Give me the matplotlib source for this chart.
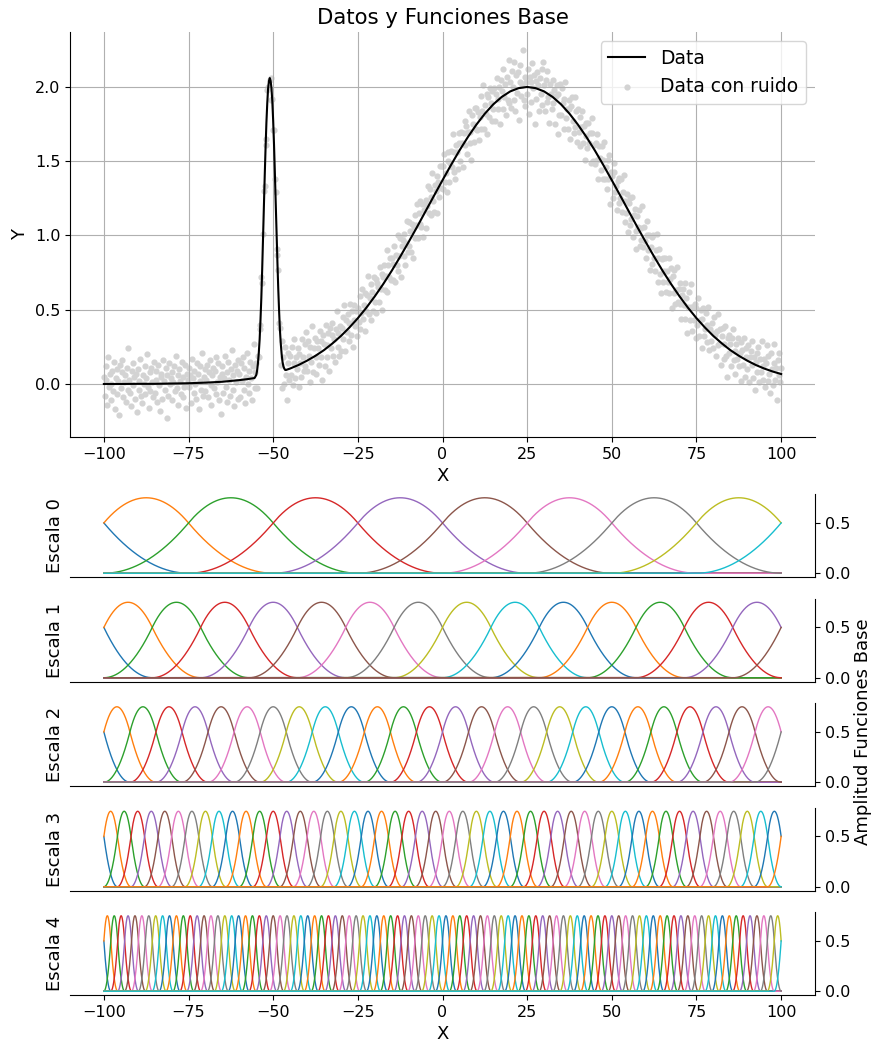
import numpy as np
import matplotlib
matplotlib.use('Agg')
import matplotlib.pyplot as plt

# curva "Data" (x, y)
curve_x = [-100, -95, -90, -85, -80, -75, -70, -65, -60, -57.5, -55.5,
           -55.25, -55, -54.75, -54.5, -54.25, -54, -53.75, -53.5, -53.25, -53,
           -52.75, -52.5, -52.25, -52, -51.75, -51.5, -51.25, -51, -50.75, -50.5,
           -50.25, -50, -49.75, -49.5, -49.25, -49, -48.75, -48.5, -48.25, -48,
           -47.75, -47.5, -47.25, -47, -46.75, -46.5, -46.25,
           -45, -42.5, -40, -37.5, -35, -32.5, -30, -27.5, -25, -22.5, -20,
           -17.5, -15, -12.5, -10, -7.5, -5, -2.5, 0, 2.5, 5, 7.5, 10, 12.5,
           15, 17.5, 20, 22.5, 25, 27.5, 30, 32.5, 35, 37.5, 40, 42.5, 45,
           47.5, 50, 52.5, 55, 57.5, 60, 62.5, 65, 67.5, 70, 72.5, 75, 77.5,
           80, 82.5, 85, 87.5, 90, 92.5, 95, 97.5, 100]
curve_y = [0.0, 0.0, 0.001, 0.001, 0.003, 0.005, 0.009, 0.015, 0.026, 0.033, 0.040,
           0.05, 0.06, 0.09, 0.14, 0.21, 0.30, 0.43, 0.58, 0.77, 0.98,
           1.19, 1.40, 1.59, 1.76, 1.89, 1.99, 2.04, 2.06, 2.04, 1.99,
           1.90, 1.77, 1.61, 1.42, 1.22, 1.02, 0.82, 0.64, 0.49, 0.36,
           0.27, 0.20, 0.15, 0.12, 0.105, 0.095, 0.094,
           0.104, 0.128, 0.157, 0.190, 0.228, 0.273, 0.323, 0.380, 0.443, 0.513, 0.590,
           0.673, 0.762, 0.857, 0.956, 1.058, 1.163, 1.268, 1.372, 1.474, 1.572, 1.663, 1.746, 1.820,
           1.883, 1.933, 1.970, 1.992, 2.000, 1.992, 1.970, 1.933, 1.883, 1.820, 1.746, 1.663, 1.572,
           1.474, 1.372, 1.268, 1.163, 1.058, 0.956, 0.857, 0.762, 0.673, 0.590, 0.513, 0.443, 0.380,
           0.323, 0.273, 0.228, 0.190, 0.157, 0.128, 0.104, 0.084, 0.067]

# puntos con ruido, x de -100 a 100 cada 0.25, y en centesimas (20 por fila)
noisy_rows = [
    [5, -8, 12, 3, -14, 18, -2, 7, -11, 0, 9, -5, 15, -17, 4, 10, -7, 2, -21, 13],
    [-3, 8, 16, -9, 1, 6, -12, 11, -4, 24, 3, -6, -15, 9, 14, -1, 5, -10, 7, -19],
    [10, -4, 2, 17, -8, -13, 6, 0, 12, -7, 4, 20, -2, -16, 8, -5, 11, 1, -9, 15],
    [-6, 3, 9, -12, 13, -1, -18, 7, 5, -10, 16, 2, -4, 11, -23, 6, -8, 14, 0, 4],
    [8, -11, 1, 12, -5, 19, -3, 6, -14, 10, 2, -7, 15, 5, -9, -2, 13, -16, 7, 3],
    [-2, 11, 6, -13, 17, 4, -6, 9, 0, -10, 14, 7, -17, 2, 12, -4, 21, -8, 5, 10],
    [-5, 3, 13, -9, 8, 16, -1, -14, 6, 11, -3, 9, 18, -7, 1, 14, -11, 5, -20, 7],
    [12, -6, 4, 19, -2, 8, -12, 15, 3, -8, 10, 23, -4, 6, -15, 13, 1, 9, -10, 16],
    [7, -9, 14, 2, 18, -4, 11, -13, 5, 21, 0, 9, -6, 15, 4, -11, 12, 27, -3, 8],
    [14, -3, 19, 18, 40, 37, 72, 68, 101, 130, 133, 165, 161, 198, 200, 199, 205, 206, 191, 192],
    [171, 171, 138, 129, 91, 87, 77, 41, 38, 13, 29, -3, 18, 0, 25, 6, -11, 14, 21, 3],
    [19, 6, 25, -1, 14, 30, 4, 18, 10, 24, -2, 20, 14, 5, 30, 18, 9, 27, 12, 35],
    [9, 29, 19, 1, 25, 15, 39, 8, 24, 31, 18, 7, 29, 24, 13, 36, 18, 29, 3, 33],
    [27, 12, 40, 18, 26, 34, 9, 38, 24, 33, 41, 19, 30, 15, 37, 49, 25, 34, 19, 39],
    [22, 38, 45, 30, 53, 22, 43, 35, 47, 29, 41, 54, 33, 49, 25, 43, 53, 39, 49, 32],
    [51, 42, 59, 37, 48, 64, 44, 53, 36, 61, 49, 60, 73, 47, 58, 43, 67, 62, 49, 72],
    [55, 71, 48, 68, 65, 55, 79, 64, 74, 50, 72, 80, 63, 73, 90, 62, 80, 72, 85, 70],
    [85, 70, 81, 93, 69, 87, 80, 100, 76, 86, 98, 72, 93, 97, 86, 101, 80, 95, 110, 89],
    [93, 109, 103, 89, 108, 85, 106, 114, 98, 107, 121, 98, 115, 108, 123, 106, 121, 99, 117, 121],
    [124, 105, 120, 133, 115, 131, 114, 126, 142, 123, 116, 134, 130, 115, 140, 136, 126, 147, 132, 147],
    [131, 147, 155, 136, 142, 129, 150, 156, 136, 149, 157, 146, 168, 143, 156, 138, 161, 156, 145, 169],
    [162, 150, 170, 162, 146, 169, 177, 161, 174, 155, 170, 184, 162, 170, 151, 181, 175, 163, 186, 172],
    [186, 171, 183, 164, 180, 194, 172, 184, 201, 172, 188, 182, 195, 168, 193, 180, 199, 189, 177, 197],
    [185, 199, 177, 195, 206, 185, 192, 200, 175, 205, 197, 185, 212, 193, 202, 181, 207, 191, 218, 189],
    [203, 186, 211, 200, 191, 217, 184, 208, 196, 210, 178, 203, 215, 194, 201, 225, 191, 207, 187, 203],
    [195, 212, 182, 207, 203, 190, 216, 199, 208, 175, 204, 192, 210, 201, 184, 206, 195, 212, 188, 217],
    [201, 184, 205, 190, 211, 193, 176, 202, 195, 185, 205, 189, 198, 175, 194, 201, 168, 195, 181, 202],
    [181, 199, 189, 172, 192, 203, 179, 185, 172, 191, 185, 165, 187, 193, 177, 169, 193, 173, 184, 163],
    [185, 170, 180, 160, 173, 184, 162, 174, 151, 176, 167, 159, 176, 162, 169, 149, 169, 179, 150, 161],
    [148, 162, 168, 151, 138, 160, 152, 144, 160, 138, 151, 163, 138, 146, 131, 151, 138, 154, 121, 143],
    [140, 125, 143, 149, 129, 133, 117, 137, 139, 122, 125, 138, 116, 129, 141, 109, 123, 115, 128, 102],
    [122, 107, 125, 111, 126, 99, 114, 118, 103, 91, 113, 106, 117, 93, 105, 97, 120, 92, 106, 96],
    [85, 100, 110, 90, 100, 77, 92, 99, 81, 100, 85, 76, 90, 101, 69, 85, 91, 74, 61, 84],
    [85, 69, 76, 85, 62, 76, 69, 85, 61, 71, 78, 51, 73, 61, 77, 54, 63, 79, 55, 64],
    [54, 68, 44, 60, 64, 53, 68, 44, 58, 34, 52, 62, 43, 52, 67, 36, 52, 43, 54, 31],
    [51, 40, 58, 32, 43, 50, 24, 44, 51, 32, 37, 48, 28, 40, 52, 23, 37, 29, 41, 34],
    [24, 45, 33, 19, 36, 26, 47, 27, 37, 13, 32, 38, 17, 27, 39, 19, 5, 31, 21, 33],
    [27, 12, 31, 37, 16, 22, 7, 27, 17, 31, 12, 21, 28, 2, 23, 13, 31, 5, 18, 24],
    [10, 26, 1, 18, 22, 13, 29, 4, 18, -4, 15, 21, 8, 25, 1, 17, 8, 29, 3, 12],
    [17, -2, 14, 26, 2, 19, 7, -6, 21, 10, -1, 14, 27, 3, 11, -11, 16, 6, 21, 1],
    [11],
]

# numero de intervalos de las B-splines cuadraticas en cada escala
scale_intervals = [8, 14, 26, 50, 98]
scale_labels = ['Escala 0', 'Escala 1', 'Escala 2', 'Escala 3', 'Escala 4']
x_ticks = [-100, -75, -50, -25, 0, 25, 50, 75, 100]


def bspline2(x, left, h):
    # B-spline cuadratica uniforme con soporte [left, left + 3h]
    t = (x - left) / h
    y = np.zeros_like(x)
    m = (t >= 0) & (t < 1)
    y[m] = 0.5 * t[m] ** 2
    m = (t >= 1) & (t < 2)
    y[m] = -t[m] ** 2 + 3 * t[m] - 1.5
    m = (t >= 2) & (t <= 3)
    y[m] = 0.5 * (3 - t[m]) ** 2
    return y


y_noisy = np.concatenate([np.array(r, dtype=float) for r in noisy_rows]) / 100.0
x_noisy = np.linspace(-100, 100, len(y_noisy))

W, H = 874, 1042
fig = plt.figure(figsize=(W / 100, H / 100), dpi=100)

def box(left, top, right, bottom):
    return [left / W, 1 - bottom / H, (right - left) / W, (bottom - top) / H]

# panel superior
ax = fig.add_axes(box(70, 32, 815, 437))
ax.plot(curve_x, curve_y, color='black', lw=1.5, label='Data')
ax.scatter(x_noisy, y_noisy, s=12, color='lightgray', label='Data con ruido')
ax.set_xlim(-110, 110)
ax.set_ylim(-0.357, 2.37)
ax.set_xticks(x_ticks)
ax.set_yticks([0.0, 0.5, 1.0, 1.5, 2.0])
ax.grid(True)
ax.spines['top'].set_visible(False)
ax.spines['right'].set_visible(False)
ax.tick_params(labelsize=11.5)
ax.set_xlabel('X', fontsize=13)
ax.set_ylabel('Y', fontsize=13)
ax.set_title('Datos y Funciones Base', fontsize=15.3)
ax.legend(loc='upper right', fontsize=13.4)

# funciones base
xb = np.linspace(-100, 100, 2001)
bottoms = [577, 681.5, 786, 890.5, 995]
for i, n in enumerate(scale_intervals):
    b = bottoms[i]
    axb = fig.add_axes(box(70, b - 83, 815, b))
    h = 200.0 / n
    for k in range(n + 2):
        axb.plot(xb, bspline2(xb, -100 + (k - 2) * h, h), lw=1.0)
    axb.set_xlim(-110, 110)
    axb.set_ylim(-0.0375, 0.7875)
    axb.spines['top'].set_visible(False)
    axb.spines['left'].set_visible(False)
    axb.yaxis.tick_right()
    axb.set_yticks([0.0, 0.5])
    axb.tick_params(labelsize=11.5)
    axb.set_ylabel(scale_labels[i], fontsize=13)
    axb.yaxis.set_label_position('left')
    if i < len(scale_intervals) - 1:
        axb.tick_params(bottom=False, labelbottom=False)
    else:
        axb.set_xticks(x_ticks)
        axb.set_xlabel('X', fontsize=13)

fig.text(863 / W, 1 - 732 / H, 'Amplitud Funciones Base', rotation=90,
         ha='center', va='center', fontsize=13)

plt.savefig('out.png', dpi=100)
